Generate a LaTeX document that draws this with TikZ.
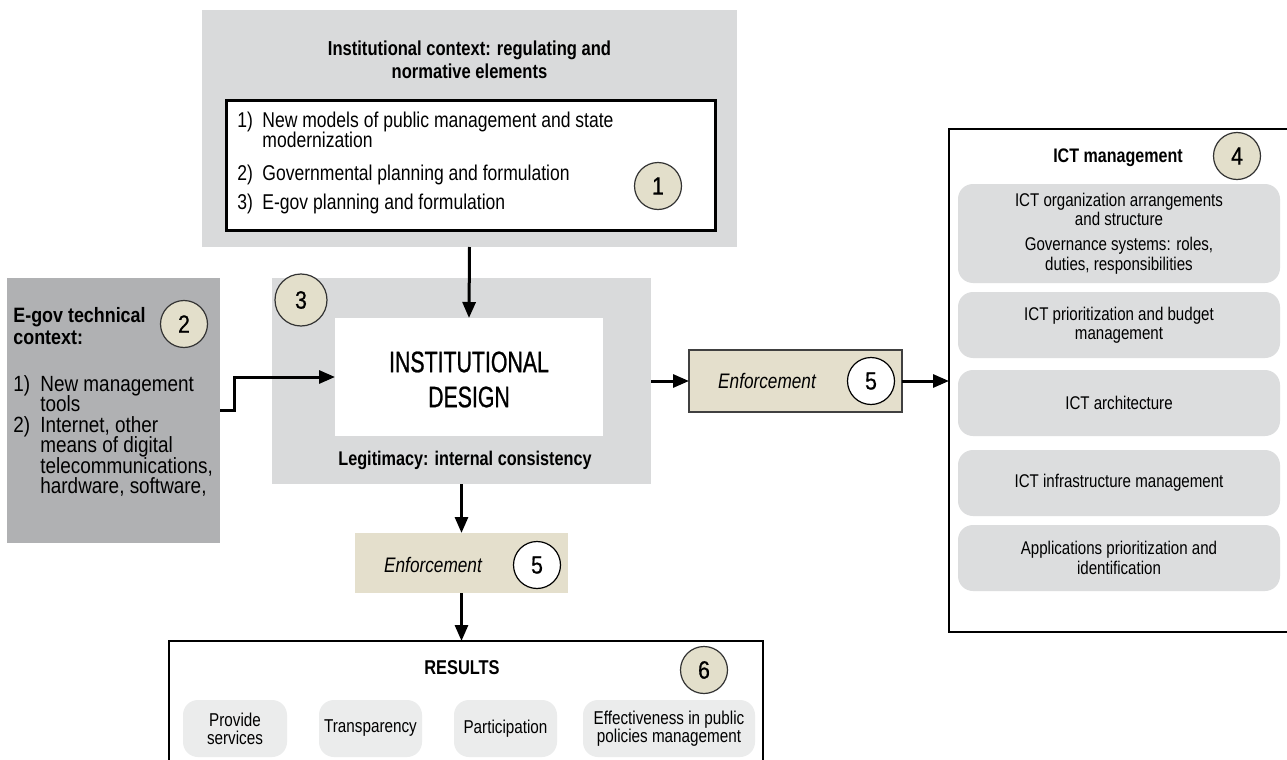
\documentclass[tikz,border=0pt]{standalone}
\usepackage{fontspec}
\setmainfont{Liberation Sans}[FakeStretch=0.82]
\newfontfamily\leftfam{Liberation Sans}[FakeStretch=0.86]
\newfontfamily\bigfam{Liberation Sans}[FakeStretch=0.72,FakeBold=0.8]
\newfontfamily\digfam{Liberation Sans}[FakeStretch=0.85,FakeBold=0.6]
\usetikzlibrary{arrows.meta,fit}
\definecolor{ctxgray}{HTML}{D9DADB}
\definecolor{techgray}{HTML}{B0B1B3}
\definecolor{beige}{HTML}{E3DFCB}
\definecolor{enfbeige}{HTML}{E4DFCC}
\definecolor{ictitem}{HTML}{DCDDDE}
\definecolor{resitem}{HTML}{EBECEC}
\newcommand\fsList{\fontsize{10.7pt}{10.6pt}\selectfont}
\newcommand\fsLeft{\leftfam\fontsize{11pt}{10pt}\selectfont}
\newcommand\fsICT{\fontsize{9.2pt}{9.6pt}\selectfont}
\newcommand\fsRes{\fontsize{9.3pt}{9pt}\selectfont}
\begin{document}
\begin{tikzpicture}[x=0.5pt,y=-0.5pt,
  panel/.style={inner sep=0pt,outer sep=0pt},
  badge/.style={circle,draw=black!80,line width=0.6pt,fill=beige,minimum size=23.5pt,inner sep=0pt,font=\digfam\fontsize{12.5pt}{12pt}\selectfont},
  wbadge/.style={badge,fill=white,draw=black},
  ictbox/.style={panel,rounded corners=7.5pt,fill=ictitem},
  resbox/.style={panel,rounded corners=7.5pt,fill=resitem},
  enfbox/.style={panel,fill=enfbeige},
  arr/.style={line width=1.5pt,-{Triangle[length=8pt,width=6.5pt]}},
  lline/.style={anchor=base west,inner sep=0pt,font=\fsList},
  tline/.style={anchor=base west,inner sep=0pt,font=\fsLeft},
  ctext/.style={align=center,inner sep=0pt}
]
\useasboundingbox (0,0) rectangle (1287,760);

% ---------- institutional context ----------
\node[panel,fill=ctxgray,fit={(202,10) (737,247)}] (ctx) {};
\node[ctext,font=\bfseries\fontsize{10.1pt}{11.6pt}\selectfont] (ctxtitle) at (469.5,60)
  {Institutional context: regulating and\\normative elements};
\node[panel,fill=white,draw=black,line width=1.5pt,fit={(226,100) (715,230)}] (ctxlist) {};
\node[lline] (c1n) at (237,127) {1)};
\node[lline] (c1a) at (262,127) {New models of public management and state};
\node[lline] (c1b) at (262,148) {modernization};
\node[lline] (c2n) at (237,180) {2)};
\node[lline] (c2a) at (262,180) {Governmental planning and formulation};
\node[lline] (c3n) at (237,209) {3)};
\node[lline] (c3a) at (262,209) {E-gov planning and formulation};
\node[badge] (b1) at (658,186) {1};

% ---------- e-gov technical context ----------
\node[panel,fill=techgray,fit={(7,278) (220,543)}] (tech) {};
\node[tline,font=\leftfam\bfseries\fontsize{10.4pt}{10pt}\selectfont] (t0a) at (13,322) {E-gov technical};
\node[tline,font=\leftfam\bfseries\fontsize{10.4pt}{10pt}\selectfont] (t0b) at (13,344) {context:};
\node[badge] (b2) at (184,324) {2};
\node[tline] (t1n) at (13,391) {1)};
\node[tline] (t1a) at (40,391) {New management};
\node[tline] (t1b) at (40,411.5) {tools};
\node[tline] (t2n) at (13,432) {2)};
\node[tline] (t2a) at (40,432) {Internet, other};
\node[tline] (t2b) at (40,452.5) {means of digital};
\node[tline] (t2c) at (40,473) {telecommunications,};
\node[tline] (t2d) at (40,493.5) {hardware, software,};

% ---------- institutional design ----------
\node[panel,fill=ctxgray,fit={(272,278) (651,484)}] (mid) {};
\node[panel,fill=white,fit={(335,318) (603,436)}] (core) {};
\node[ctext,font=\bigfam\fontsize{14.8pt}{17.5pt}\selectfont] (coretext) at (469,379.5) {INSTITUTIONAL\\DESIGN};
\node[ctext,font=\bfseries\fontsize{9.9pt}{10pt}\selectfont] (legit) at (465,460) {Legitimacy: internal consistency};
\node[badge,minimum size=26pt] (b3) at (301,300) {3};

% ---------- enforcement boxes ----------
\node[enfbox,draw=black!75,line width=0.6pt,fit={(689,350) (902,412)}] (enf1) {};
\node[inner sep=0pt,font=\itshape\fontsize{10.5pt}{10pt}\selectfont] (enf1t) at (767,381) {Enforcement};
\node[wbadge] (b5a) at (871,381) {5};

\node[enfbox,fit={(355,533) (568,593)}] (enf2) {};
\node[inner sep=0pt,font=\itshape\fontsize{10.5pt}{10pt}\selectfont] (enf2t) at (433,565) {Enforcement};
\node[wbadge] (b5b) at (537,565) {5};

% ---------- ICT management ----------
\node[panel,draw=black,line width=0.7pt,fill=white,fit={(949,129) (1300,632)}] (ict) {};
\node[inner sep=0pt,font=\bfseries\fontsize{9.8pt}{10pt}\selectfont] (icttitle) at (1118,158) {ICT management};
\node[badge] (b4) at (1237,156) {4};
\node[ictbox,fit={(958,184) (1280,283)}] (i1) {};
\node[ctext,font=\fsICT] (i1t) at (i1) {ICT organization arrangements\\and structure\\[3pt]Governance systems: roles,\\duties, responsibilities};
\node[ictbox,fit={(958,292) (1280,358)}] (i2) {};
\node[ctext,font=\fsICT] (i2t) at (i2) {ICT prioritization and budget\\management};
\node[ictbox,fit={(958,370) (1280,436)}] (i3) {};
\node[ctext,font=\fsICT] (i3t) at (i3) {ICT architecture};
\node[ictbox,fit={(958,450) (1280,516)}] (i4) {};
\node[ctext,font=\fsICT] (i4t) at (i4) {ICT infrastructure management};
\node[ictbox,fit={(958,525) (1280,591)}] (i5) {};
\node[ctext,font=\fsICT] (i5t) at (i5) {Applications prioritization and\\identification};

% ---------- results ----------
\node[panel,draw=black,line width=0.6pt,fill=white,fit={(169,641) (763,780)}] (res) {};
\node[inner sep=0pt,font=\bfseries\fontsize{10pt}{10pt}\selectfont] (restitle) at (462,668) {RESULTS};
\node[badge] (b6) at (704,670) {6};
\node[resbox,fit={(183,700) (287,757)}] (r1) {};
\node[ctext,font=\fsRes] (r1t) at (r1) {Provide\\services};
\node[resbox,fit={(319,700) (422,757)}] (r2) {};
\node[ctext,font=\fsRes] (r2t) at (r2) {Transparency};
\node[resbox,fit={(454,700) (557,757)}] (r3) {};
\node[ctext,font=\fsRes] (r3t) at (r3) {Participation};
\node[resbox,fit={(583,700) (755,757)}] (r4) {};
\node[ctext,font=\fsRes] (r4t) at (r4) {Effectiveness in public\\policies management};

% ---------- connectors ----------
\draw[arr] (ctx.south) -- (core.north);
\draw[arr] (tech.east) -- ++(14,0) |- (core.west);
\draw[arr] (mid.east) -- (enf1.west);
\draw[arr] (enf1.east) -- (enf1.east -| ict.west);
\draw[arr] (mid.south) -- (enf2.north);
\draw[arr] (enf2.south) -- (enf2.south |- res.north);
\end{tikzpicture}
\end{document}
